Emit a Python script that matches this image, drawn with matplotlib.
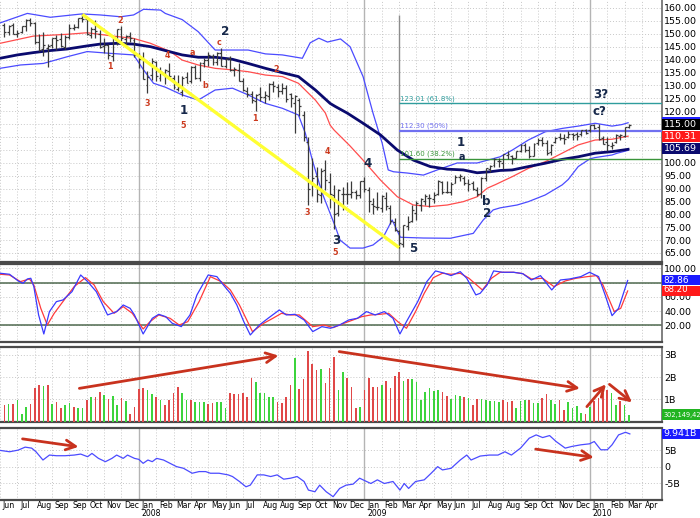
import numpy as np
import matplotlib.pyplot as plt
from matplotlib.patches import Rectangle
from matplotlib.transforms import IdentityTransform

plt.rcParams['font.family'] = ['DejaVu Sans']
plt.rcParams['axes.unicode_minus'] = False

# -----------------------------
# data (weekly bars, bar 0 = week of 4 Jun 2007)
# -----------------------------
opens = [153.5, 150.5, 153.3, 150.0, 150.6, 153.0, 155.5, 154.0, 147.0, 144.0,
         144.5, 145.5, 148.3, 148.0, 145.0, 148.9, 152.4, 152.8, 156.0, 155.8,
         149.4, 152.0, 150.0, 145.2, 145.5, 141.5, 147.5, 152.0, 148.0, 149.0,
         147.5, 141.5, 140.5, 130.0, 134.0, 139.0, 133.0, 134.5, 135.5, 133.0,
         128.5, 127.5, 133.2, 131.5, 137.0, 133.0, 138.5, 140.0, 141.5, 139.0,
         142.5, 137.5, 140.5, 136.0, 136.0, 131.5, 128.0, 126.5, 124.0, 126.5,
         125.5, 126.0, 130.5, 129.5, 128.0, 129.0, 126.5, 123.0, 124.5, 118.5,
         108.0, 92.0, 95.0, 87.5, 97.0, 92.5, 87.5, 80.5, 88.0, 88.0,
         88.0, 88.5, 87.5, 93.0, 89.5, 84.0, 83.0, 82.5, 86.5, 82.5,
         77.0, 73.5, 68.5, 75.5, 77.5, 80.5, 83.5, 85.0, 86.5, 86.0,
         88.0, 92.5, 88.7, 88.5, 92.0, 94.5, 94.0, 92.0, 92.0, 89.5,
         88.0, 94.0, 97.5, 99.0, 100.5, 100.0, 103.0, 102.5, 102.0, 104.5,
         107.0, 105.0, 102.5, 107.5, 109.0, 107.5, 104.0, 108.0, 110.0, 109.5,
         110.0, 111.0, 111.0, 111.0, 112.5, 112.5, 114.5, 114.0, 109.5, 108.0,
         106.5, 108.0, 110.5, 110.5, 113.8]
highs = [154.0, 153.4, 154.0, 151.5, 153.0, 155.7, 156.1, 154.5, 150.0, 150.5,
         146.0, 148.5, 149.5, 150.3, 149.4, 153.6, 153.6, 156.3, 157.5, 156.5,
         152.6, 155.4, 151.5, 148.5, 146.0, 148.5, 152.0, 153.0, 149.5, 150.6,
         148.5, 142.5, 143.0, 135.4, 140.5, 139.5, 137.0, 136.5, 138.8, 134.0,
         133.9, 133.5, 135.0, 137.5, 138.0, 139.0, 140.5, 142.8, 142.2, 143.0,
         144.3, 140.5, 141.5, 137.0, 138.5, 133.0, 129.5, 127.9, 126.5, 129.5,
         127.8, 130.8, 131.5, 130.5, 131.0, 130.0, 127.0, 126.3, 125.0, 120.0,
         110.0, 102.0, 98.5, 98.0, 101.0, 96.0, 91.5, 90.0, 90.5, 92.5,
         93.0, 89.5, 93.0, 94.5, 90.5, 86.2, 88.5, 87.5, 88.7, 83.5,
         78.5, 74.0, 76.0, 79.5, 83.5, 85.0, 86.5, 87.9, 88.0, 88.6,
         93.4, 93.0, 92.8, 92.4, 95.1, 95.5, 95.0, 93.5, 93.0, 90.5,
         94.5, 98.0, 99.3, 101.8, 101.8, 103.4, 104.5, 103.0, 104.6, 107.3,
         107.8, 106.5, 107.5, 109.7, 110.1, 109.0, 107.1, 110.0, 111.5, 111.0,
         112.4, 111.5, 112.0, 112.5, 113.0, 114.6, 115.1, 115.0, 110.5, 110.0,
         108.2, 111.0, 111.0, 113.8, 115.0]
lows = [148.7, 149.7, 149.8, 148.6, 150.3, 151.2, 153.2, 145.9, 143.5, 141.5,
        137.0, 144.5, 143.8, 145.0, 144.0, 148.0, 151.4, 152.3, 154.5, 149.6,
        148.3, 148.5, 144.5, 142.5, 140.3, 139.6, 145.5, 147.2, 144.9, 146.8,
        141.0, 136.7, 132.4, 127.0, 132.0, 131.5, 131.8, 130.5, 132.5, 128.4,
        127.8, 126.0, 130.8, 131.0, 132.3, 131.5, 137.0, 137.5, 138.0, 138.0,
        137.4, 136.6, 135.5, 133.5, 131.5, 127.8, 125.5, 123.1, 120.0, 124.0,
        123.3, 124.5, 127.5, 125.6, 126.5, 123.5, 121.5, 111.6, 118.0, 108.5,
        83.6, 87.0, 84.7, 84.3, 89.5, 82.3, 74.3, 79.5, 81.5, 84.0,
        86.5, 85.8, 86.4, 88.5, 80.9, 80.1, 81.5, 81.0, 81.7, 76.3,
        73.4, 67.1, 67.5, 74.0, 76.9, 77.7, 81.3, 83.5, 83.0, 84.5,
        87.5, 88.0, 88.3, 87.5, 92.0, 93.0, 91.3, 89.1, 89.5, 87.0,
        86.4, 93.0, 96.5, 98.2, 98.3, 97.5, 101.5, 99.5, 101.8, 104.0,
        104.3, 101.7, 102.5, 107.0, 106.5, 103.0, 103.0, 107.8, 108.8, 107.3,
        109.5, 108.8, 109.0, 110.5, 111.2, 112.0, 113.0, 108.9, 107.2, 104.6,
        105.4, 107.6, 108.8, 110.0, 113.3]
closes = [150.6, 153.2, 150.0, 150.4, 152.9, 155.5, 154.0, 146.8, 143.8, 145.6,
          145.2, 148.4, 147.6, 145.4, 148.9, 152.2, 152.6, 156.1, 155.9, 150.0,
          152.0, 151.0, 145.0, 145.8, 141.6, 148.2, 151.8, 148.5, 149.1, 148.2,
          141.7, 140.3, 132.5, 133.4, 139.6, 133.5, 135.0, 135.9, 133.8, 129.3,
          129.2, 133.0, 131.0, 137.0, 133.0, 138.5, 139.9, 141.6, 138.9, 142.7,
          137.6, 140.4, 136.0, 136.3, 131.6, 128.3, 126.7, 124.4, 126.3, 125.6,
          126.4, 130.5, 129.6, 127.9, 128.8, 124.6, 125.2, 125.7, 121.9, 110.0,
          89.9, 94.1, 87.9, 96.8, 93.2, 87.9, 80.0, 89.6, 87.9, 88.0,
          88.7, 87.5, 92.9, 89.9, 85.0, 83.1, 82.8, 87.0, 83.2, 77.4,
          73.9, 68.8, 75.9, 77.0, 81.6, 84.2, 85.8, 87.0, 86.4, 87.5,
          92.9, 88.7, 88.8, 91.9, 94.6, 94.8, 92.0, 91.9, 89.8, 88.0,
          94.0, 97.8, 98.8, 101.5, 100.6, 103.3, 103.5, 101.7, 104.5, 107.0,
          104.8, 102.7, 107.3, 108.9, 107.5, 103.6, 106.9, 109.6, 109.4, 109.3,
          111.1, 110.8, 110.2, 112.5, 111.4, 114.6, 113.6, 109.2, 107.4, 106.7,
          107.0, 110.7, 110.7, 113.7, 114.6]

# Bollinger bands and moving averages, read as (week, value)
upper_wk = [-1, 5.3, 10.6, 17.9, 22.1, 26.8, 29.8, 32.1, 36.0, 37.1, 41.0, 44.7, 48.6,
            52.6, 56.2, 60.2, 64.1, 68.7, 70.5, 72.5, 74.5, 77.5, 79.7, 82.7, 85.0,
            87.1, 88.5, 89.7, 92.9, 96.6, 99.8, 104.4, 109.0, 114.3, 117.1, 120.8,
            124.7, 128.6, 132.3, 136.2, 140.1, 142.4, 143.8]
upper_bb = [154.2, 157.9, 156.4, 157.7, 157.3, 156.6, 157.3, 159.5, 159.2, 157.9, 155.5,
            150.8, 143.7, 143.7, 143.7, 142.2, 141.8, 140.5, 146.5, 148.3, 146.8, 148.0,
            145.0, 133.4, 119.2, 107.6, 97.2, 96.5, 96.0, 95.2, 97.2, 99.9, 99.9, 102.3,
            104.9, 108.8, 112.0, 113.3, 114.2, 115.3, 114.2, 114.8, 115.5]
mid_wk = [-1, 6.7, 14.5, 19.1, 25.1, 29.8, 33.7, 38.3, 41.0, 44.7, 48.6, 52.6, 56.2,
          60.2, 64.1, 67.8, 71.7, 74.0, 75.1, 76.0, 79.7, 82.7, 86.7, 90.6, 94.3,
          98.2, 102.1, 105.8, 109.0, 111.3, 113.2, 117.1, 120.8, 124.7, 128.6,
          132.3, 136.2, 140.1, 143.8]
mid_ma = [146.3, 149.1, 149.8, 150.4, 149.1, 148.2, 146.3, 143.1, 139.8, 137.9, 136.6,
          136.0, 135.3, 134.0, 133.4, 130.8, 124.3, 119.3, 114.6, 112.7, 106.5, 101.0,
          93.3, 86.8, 83.6, 83.0, 83.6, 84.9, 86.8, 90.1, 91.5, 94.6, 97.8, 100.4,
          103.7, 106.9, 108.8, 109.1, 110.3]
long_wk = [-1, 3.0, 6.7, 10.6, 14.5, 19.1, 22.1, 26.1, 29.8, 33.7, 37.1, 41.0, 44.7,
           48.6, 52.6, 56.2, 60.2, 64.1, 67.8, 71.7, 75.1, 76.3, 79.1, 82.7, 86.7,
           90.6, 94.3, 98.2, 102.1, 105.8, 109.0, 112.0, 114.3, 117.1, 120.8, 124.7,
           128.6, 132.3, 136.2, 140.1, 143.8]
long_ma = [140.5, 141.8, 142.7, 143.5, 144.1, 145.3, 146.0, 146.3, 146.0, 145.0, 143.5,
           141.8, 140.9, 140.9, 140.1, 138.5, 136.6, 134.9, 133.4, 128.2, 123.0, 121.8,
           119.2, 115.3, 110.8, 104.9, 101.0, 98.5, 97.5, 97.2, 96.1, 96.5, 97.0, 97.2,
           98.5, 99.8, 101.3, 102.3, 103.7, 104.3, 105.2]
lower_wk = [-1, 3.7, 9.0, 14.5, 19.1, 24.5, 29.8, 32.1, 34.4, 37.1, 41.0, 44.7, 48.6,
            52.6, 56.2, 60.2, 64.1, 67.8, 69.4, 71.0, 73.3, 75.1, 76.3, 77.4, 79.7,
            82.7, 85.0, 87.4, 89.4, 91.3, 92.9, 96.6, 102.8, 108.1, 110.4, 112.7,
            114.3, 118.2, 120.8, 124.7, 128.6, 130.0, 132.3, 135.0, 136.2, 140.1,
            141.3, 143.8]
lower_bb = [136.6, 137.9, 138.5, 141.1, 143.1, 142.4, 141.8, 136.0, 130.8, 129.3, 126.3,
            124.3, 128.2, 128.9, 126.3, 123.0, 121.1, 118.5, 111.4, 101.0, 88.1, 80.4,
            75.2, 70.0, 66.9, 66.9, 68.1, 71.3, 77.8, 71.1, 71.0, 70.8, 70.7, 72.6,
            77.8, 81.7, 82.5, 83.6, 84.9, 87.5, 91.4, 93.5, 98.5, 101.5, 102.0, 103.0,
            103.7, 104.8]

# stochastics (%K blue, %D red), read as (week, value)
stoch_k_wk = [-0.9, 1.2, 3.2, 4.3, 5.3, 6.1, 6.8, 7.9, 9.1, 10.4, 12.0, 13.5, 15.6, 17.6,
              19.2, 21.2, 23.8, 25.9, 27.4, 29.0, 30.0, 32.0, 34.1, 35.6, 37.2, 38.7,
              40.8, 42.8, 44.4, 47.0, 49.0, 50.5, 52.1, 53.6, 55.2, 56.7, 58.8, 60.8,
              63.4, 65.0, 67.0, 69.1, 71.1, 73.2, 75.2, 77.3, 79.4, 81.4, 83.5, 85.5,
              87.6, 89.6, 91.2, 92.7, 95.3, 97.4, 99.4, 101.5, 103.0, 105.1, 106.6,
              108.7, 109.7, 111.3, 112.8, 114.9, 117.4, 119.5, 121.5, 123.6, 126.2,
              128.2, 130.3, 132.9, 134.9, 137.0, 138.5, 140.1, 141.6, 143.7]
stoch_k = [93.0, 91.6, 82.2, 78.9, 85.0, 86.0, 74.3, 34.5, 7.8, 39.2, 53.2, 55.5, 67.2,
           90.6, 81.3, 67.2, 34.5, 39.2, 48.5, 43.8, 34.5, 7.8, 29.8, 35.4, 32.1, 22.8,
           18.1, 34.5, 62.6, 90.6, 88.3, 76.6, 64.9, 48.5, 25.1, 6.4, 20.4, 29.8, 41.5,
           34.5, 35.4, 27.5, 11.1, 18.1, 15.8, 20.4, 27.5, 29.8, 39.2, 34.5, 39.2, 29.8,
           7.8, 25.1, 53.2, 81.3, 96.3, 93.0, 89.7, 95.3, 86.0, 62.6, 64.9, 76.6, 96.3,
           94.4, 94.4, 92.5, 83.6, 89.7, 69.6, 83.6, 85.0, 88.3, 94.4, 88.3, 62.6, 33.5,
           43.8, 82.9]
stoch_d_wk = [-0.9, 1.2, 3.7, 5.8, 6.8, 8.4, 9.9, 11.5, 13.5, 16.1, 18.7, 20.7, 22.8,
              25.3, 27.4, 29.5, 32.0, 33.6, 35.6, 38.2, 40.3, 42.3, 44.9, 47.5, 50.0,
              52.1, 54.2, 57.2, 59.8, 61.9, 63.9, 66.0, 68.0, 71.1, 73.7, 75.8, 78.3,
              80.4, 82.4, 84.5, 86.6, 88.6, 90.7, 92.7, 94.8, 96.8, 98.9, 101.0, 103.0,
              105.1, 107.1, 110.2, 112.3, 114.3, 117.4, 119.5, 121.5, 124.1, 126.7,
              129.3, 131.8, 134.4, 136.5, 138.0, 140.6, 142.1, 143.7]
stoch_d = [91.6, 90.6, 81.3, 85.0, 76.6, 43.8, 20.4, 36.8, 53.2, 74.3, 86.9, 76.6, 53.2,
           36.8, 46.2, 36.8, 14.8, 25.1, 34.5, 29.8, 20.4, 25.1, 53.2, 88.3, 81.3, 69.6,
           48.5, 11.1, 22.8, 29.8, 36.8, 34.5, 34.5, 18.1, 20.4, 16.7, 22.8, 27.5, 32.1,
           34.5, 35.4, 36.8, 25.1, 15.8, 39.2, 64.9, 86.9, 93.0, 91.6, 93.0, 86.0, 69.6,
           86.0, 94.4, 94.4, 92.5, 85.0, 86.0, 74.3, 82.2, 86.0, 88.3, 89.7, 76.6, 39.2,
           43.8, 68.2]

# weekly volume in billions; 1 = green bar, 0 = red bar
volume_b = [0.75, 0.80, 0.78, 0.98, 0.33, 0.65, 0.80, 1.50, 1.65, 1.61,
            1.65, 0.80, 0.87, 0.63, 0.75, 0.83, 0.68, 0.63, 0.63, 0.98,
            1.13, 1.13, 1.32, 1.20, 1.01, 1.17, 0.75, 1.05, 0.95, 0.35,
            0.65, 1.46, 1.50, 1.43, 1.23, 1.13, 0.98, 0.75, 0.98, 1.28,
            1.55, 1.28, 0.98, 0.98, 0.87, 0.87, 0.87, 0.80, 0.83, 0.87,
            0.90, 0.63, 1.28, 1.23, 1.23, 1.28, 1.13, 1.95, 1.77, 1.28,
            1.28, 1.13, 1.10, 0.90, 0.83, 1.13, 1.65, 2.88, 1.47, 1.91,
            3.18, 2.60, 2.33, 2.36, 1.76, 2.40, 2.93, 1.43, 2.22, 1.95,
            1.58, 0.63, 0.68, 1.43, 1.95, 1.58, 1.58, 1.65, 1.83, 1.50,
            2.07, 2.25, 1.83, 1.92, 1.92, 1.80, 0.98, 1.32, 1.53, 1.38,
            1.43, 1.32, 1.17, 1.02, 1.20, 1.17, 1.13, 1.08, 0.75, 1.02,
            1.02, 0.98, 0.93, 0.93, 0.87, 0.98, 0.90, 0.93, 0.60, 0.93,
            0.98, 0.98, 0.83, 0.83, 1.05, 1.23, 0.98, 0.78, 0.98, 0.53,
            0.87, 0.60, 0.72, 0.38, 0.33, 0.68, 0.93, 1.08, 1.28, 1.43,
            1.31, 0.75, 0.93, 0.75, 0.30]
volume_up = [0, 1, 0, 1, 1, 1, 0, 0, 0, 1,
             0, 1, 0, 0, 1, 1, 0, 1, 1, 0,
             1, 0, 0, 1, 0, 1, 1, 0, 1, 0,
             0, 0, 0, 1, 1, 0, 1, 0, 0, 0,
             0, 1, 1, 0, 1, 1, 1, 0, 0, 1,
             1, 1, 0, 0, 0, 0, 0, 0, 1, 1,
             1, 1, 1, 0, 0, 0, 0, 1, 0, 0,
             0, 0, 0, 1, 0, 0, 0, 1, 1, 0,
             0, 0, 1, 0, 0, 0, 0, 1, 0, 0,
             0, 0, 1, 0, 1, 1, 1, 1, 1, 1,
             1, 0, 0, 1, 1, 1, 0, 1, 0, 0,
             1, 1, 1, 1, 1, 0, 0, 0, 1, 1,
             1, 0, 1, 1, 0, 0, 1, 1, 0, 0,
             1, 1, 1, 1, 0, 1, 0, 0, 0, 0,
             1, 1, 0, 1, 1]

# on-balance volume in billions, read as (week, value)
obv_wk = [-0.9, 1.2, 3.2, 4.8, 6.3, 7.3, 8.9, 10.4, 12.0, 14.0, 16.1, 17.6, 19.2, 20.2,
          21.7, 23.3, 24.8, 25.9, 27.4, 28.4, 30.0, 31.0, 32.0, 33.1, 34.1, 35.1, 36.7,
          38.2, 39.7, 41.3, 43.3, 44.9, 46.4, 47.5, 49.5, 51.6, 52.6, 54.2, 55.7, 56.7,
          58.3, 59.8, 61.4, 62.9, 64.4, 66.0, 67.5, 69.1, 70.1, 71.6, 72.7, 74.2, 75.8,
          77.3, 78.8, 80.4, 81.9, 83.5, 84.5, 86.0, 87.6, 89.6, 91.2, 92.2, 93.2, 94.8,
          96.8, 98.4, 99.9, 101.0, 103.0, 105.1, 106.6, 107.6, 109.7, 111.8, 113.8,
          115.4, 116.9, 119.0, 120.0, 121.0, 122.6, 124.1, 125.7, 127.2, 129.3, 130.8,
          132.9, 134.9, 136.0, 137.5, 139.0, 140.1, 141.6, 143.2, 144.2]
obv = [4.9, 4.5, 5.0, 5.9, 5.6, 4.5, 2.0, 3.5, 3.3, 3.3, 3.5, 3.8, 3.0, 4.0,
       2.5, 1.5, 2.5, 3.5, 2.5, 3.5, 2.5, 2.2, 1.0, 2.0, 1.5, 2.5, 2.0,
       1.0, 0.0, -0.5, -2.0, -1.5, -1.5, -2.0, -2.0, -2.5, -3.0, -4.5, -6.1, -5.6,
       -2.5, -2.5, -3.0, -2.5, -3.8, -3.5, -3.0, -4.5, -7.1, -7.6, -5.6, -7.6, -9.1,
       -6.6, -5.6, -5.3, -3.5, -4.5, -5.1, -4.0, -5.1, -4.5, -7.1, -5.1, -6.6, -4.5,
       -4.0, -2.0, 0.0, -1.0, -0.5, 2.0, 3.5, 2.0, 3.2, 3.5, 3.5,
       4.5, 3.5, 5.6, 7.1, 8.6, 9.6, 8.8, 9.4, 7.6, 5.6, 6.1,
       6.6, 6.9, 7.6, 5.1, 5.1, 6.6, 9.6, 10.4, 9.9]

# fibonacci retracement levels
fib_levels = [123.01, 112.30, 101.60]
fib_labels = ['123.01 (61.8%)', '112.30 (50%)', '101.60 (38.2%)']
fib_colors = ['#2f9d9d', '#7070f0', '#3a943a']

# x axis labels, one every 4 weeks
month_labels = ['Jun', 'Jul', 'Aug', 'Sep', 'Sep', 'Oct', 'Nov', 'Dec',
                'Jan', 'Feb', 'Mar', 'Apr', 'May', 'Jun', 'Jul', 'Aug', 'Aug', 'Sep', 'Oct', 'Nov', 'Dec',
                'Jan', 'Feb', 'Mar', 'Apr', 'May', 'Jun', 'Jul', 'Aug', 'Aug', 'Sep', 'Oct', 'Nov', 'Dec',
                'Jan', 'Feb', 'Mar', 'Apr']
year_weeks = [31, 83, 135]
year_labels = ['2008', '2009', '2010']

# wave counts: (week, price, text)
red_waves = [(26.7, 155.1, '2'), (24.4, 137.5, '1'), (32.9, 123.0, '3'), (37.6, 141.4, '4'),
             (43.4, 142.7, 'a'), (46.3, 130.1, 'b'), (49.6, 146.5, 'c'), (41.3, 114.6, '5'),
             (57.7, 117.2, '1'), (62.7, 136.0, '2'), (69.8, 80.6, '3'), (74.5, 104.3, '4'),
             (76.3, 65.3, '5')]
navy_waves = [(50.8, 150.8, '2'), (41.3, 120.4, '1'), (76.5, 69.8, '3'), (83.7, 99.8, '4'),
              (94.3, 66.8, '5'), (105.3, 107.8, '1'), (105.5, 102.3, 'a'), (111.2, 84.9, 'b'),
              (111.2, 80.4, '2'), (137.4, 126.5, '3?'), (137.2, 119.8, 'c?')]

# -----------------------------
# layout (pixel based, 700 x 518)
# -----------------------------
W, H = 700, 518
fig = plt.figure(figsize=(W / 100, H / 100), dpi=100)
AX_RIGHT = 661.5


def panel(top, bottom):
    return fig.add_axes([0, 1 - bottom / H, AX_RIGHT / W, (bottom - top) / H])


ax_p = panel(0, 262)
ax_s = panel(264.3, 342.3)
ax_v = panel(346.7, 422)
ax_o = panel(428.3, 500)
axes = [ax_p, ax_s, ax_v, ax_o]

weeks = np.arange(len(closes))
tick_weeks = np.arange(-1, 4 * len(month_labels) - 1, 4)
grid_kw = dict(color='#c8c8c8', linestyle=(0, (1, 2)), linewidth=0.7)

for ax in axes:
    ax.set_xlim(-0.9, 151.5)
    ax.yaxis.tick_right()
    ax.tick_params(axis='y', length=0, pad=2, labelsize=6.8, colors='black')
    ax.tick_params(axis='x', length=0)
    ax.set_xticks(tick_weeks)
    ax.set_xticklabels([])
    ax.grid(True, **grid_kw)
    ax.set_axisbelow(True)
    ax.spines['left'].set_visible(False)
    for s in ['top', 'bottom']:
        ax.spines[s].set_color('#4a4a4a')
        ax.spines[s].set_linewidth(1.6)
    ax.spines['right'].set_color('#6a6a6a')
    ax.spines['right'].set_linewidth(1.2)
    for yw in year_weeks:
        ax.axvline(yw, color='#b4b4b4', linewidth=1.0, zorder=1)
ax_p.spines['top'].set_visible(False)

# -----------------------------
# price panel
# -----------------------------
ax_p.set_ylim(61.5, 163.1)
price_ticks = np.arange(65, 161, 5)
ax_p.set_yticks(price_ticks)
# labels hidden under the last-value boxes are left blank
ax_p.set_yticklabels(['' if t in (105, 110, 115) else f'{t:.2f}' for t in price_ticks])

ax_p.plot(upper_wk, upper_bb, color='#4b4bff', linewidth=0.9, zorder=3)
ax_p.plot(lower_wk, lower_bb, color='#4b4bff', linewidth=0.9, zorder=3)
ax_p.plot(mid_wk, mid_ma, color='#ff4d4d', linewidth=0.9, zorder=3)
ax_p.plot(long_wk, long_ma, color='#0a0a6e', linewidth=2.0, zorder=3)

bar_c = '#3a3a3a'
ax_p.vlines(weeks, lows, highs, color=bar_c, linewidth=0.9, zorder=4)
ax_p.hlines(opens, weeks - 0.45, weeks, color=bar_c, linewidth=0.9, zorder=4)
ax_p.hlines(closes, weeks, weeks + 0.45, color=bar_c, linewidth=0.9, zorder=4)

# trend line from the 2007 top to the 2009 low
top_i = int(np.argmax(highs))
low_i = int(np.argmin(lows))
ax_p.plot([top_i, low_i], [highs[top_i], lows[low_i]], color='#ffff33',
          linewidth=2.4, solid_capstyle='butt', zorder=5)

# fibonacci retracement from the low
ax_p.vlines(low_i, 61.5, 157.3, color='#8c8c8c', linewidth=1.0, zorder=2)
for lvl, lab, col in zip(fib_levels, fib_labels, fib_colors):
    lw = 1.6 if '50%' in lab else 1.0
    ax_p.hlines(lvl, low_i, 151.5, color=col, linewidth=lw, zorder=3)
    ax_p.text(low_i + 0.2, lvl + 0.6, lab, color=col, fontsize=5.0,
              ha='left', va='bottom', zorder=6)

for x, y, t in red_waves:
    ax_p.text(x, y, t, color='#cc3a1e', fontsize=5.8, fontweight='bold',
              ha='center', va='center', zorder=7)
for x, y, t in navy_waves:
    fs = 7 if t == 'a' else 8.6
    ax_p.text(x, y, t, color='#16284a', fontsize=fs, fontweight='bold',
              ha='center', va='center', zorder=7)

# -----------------------------
# stochastics panel
# -----------------------------
ax_s.set_ylim(-3.9, 105.6)
ax_s.set_yticks([20, 40, 60, 80, 100])
ax_s.set_yticklabels(['20.00', '40.00', '60.00', '', '100.00'])
for lvl in [20, 80]:
    ax_s.axhline(lvl, color='#4f6a4f', linewidth=1.1, zorder=2)
ax_s.plot(stoch_d_wk, stoch_d, color='#ff3a3a', linewidth=0.9, zorder=3)
ax_s.plot(stoch_k_wk, stoch_k, color='#3a3aff', linewidth=0.9, zorder=4)

# -----------------------------
# volume panel
# -----------------------------
ax_v.set_ylim(-0.01, 3.37)
ax_v.set_yticks([1, 2, 3])
ax_v.set_yticklabels(['1B', '2B', '3B'])
vol_colors = ['#3cd43c' if u else '#e04848' for u in volume_up]
ax_v.bar(weeks, volume_b, width=0.38, color=vol_colors, linewidth=0, zorder=3)

arrow_c = '#c8321e'
arrow_kw = dict(arrowstyle='->,head_length=0.7,head_width=0.35', color=arrow_c,
                linewidth=2.0, shrinkA=0, shrinkB=0)
vol_arrows = [((17.3, 1.50), (63.2, 2.97)), ((77.2, 3.15), (132.7, 1.50)),
              ((134.3, 0.68), (138.7, 1.68)), ((139.5, 1.68), (144.7, 0.87))]
for start, end in vol_arrows:
    ax_v.annotate('', xy=end, xytext=start, arrowprops=arrow_kw, zorder=6)

# -----------------------------
# on-balance volume panel
# -----------------------------
ax_o.set_ylim(-10.1, 11.6)
ax_o.set_yticks([-5, 0, 5])
ax_o.set_yticklabels(['-5B', '0', '5B'])
ax_o.plot(obv_wk, obv, color='#4b4bff', linewidth=0.9, zorder=3)
obv_arrows = [((4.2, 8.4), (17.1, 6.0)), ((122.5, 5.3), (135.9, 2.8))]
for start, end in obv_arrows:
    ax_o.annotate('', xy=end, xytext=start, arrowprops=arrow_kw, zorder=6)

# date labels under the last panel
for tw, lab in zip(tick_weeks, month_labels):
    ax_o.text(tw + 0.6, -0.012, lab, transform=ax_o.get_xaxis_transform(),
              fontsize=5.6, ha='left', va='top', clip_on=False)
for yw, lab in zip(year_weeks, year_labels):
    ax_o.text(yw + 0.6, -0.125, lab, transform=ax_o.get_xaxis_transform(),
              fontsize=5.6, ha='left', va='top', clip_on=False)


# -----------------------------
# last-value boxes on the right scale
# -----------------------------
def value_box(ax, value, text, face, h=11, fs=6.8, dy=0):
    y = ax.transData.transform((0, value))[1]
    fig.patches.append(Rectangle((AX_RIGHT + 0.5, y - h / 2), W - AX_RIGHT, h,
                                 transform=IdentityTransform(), facecolor=face,
                                 edgecolor='none', zorder=5))
    if text:
        fig.text(AX_RIGHT + 2, y + dy, text, transform=IdentityTransform(), color='white',
                 fontsize=fs, ha='left', va='center', zorder=6)


value_box(ax_p, 116.2, '', '#2020ff', h=8)
value_box(ax_p, 114.8, '115.00', '#000000')
value_box(ax_p, 110.31, '110.31', '#ff1a1a')
value_box(ax_p, 105.69, '105.69', '#0a0a6e')
value_box(ax_s, 82.86, '82.86', '#1a1aff', h=10, fs=6.4)
value_box(ax_s, 68.20, '68.20', '#ff1a1a', h=10, fs=6.2, dy=1.5)
value_box(ax_v, 0.32, '302,149,42', '#22b422', h=11, fs=4.8)
value_box(ax_o, 9.941, '9.941B', '#1a1aff', h=10)

plt.savefig('out.png', dpi=100)
